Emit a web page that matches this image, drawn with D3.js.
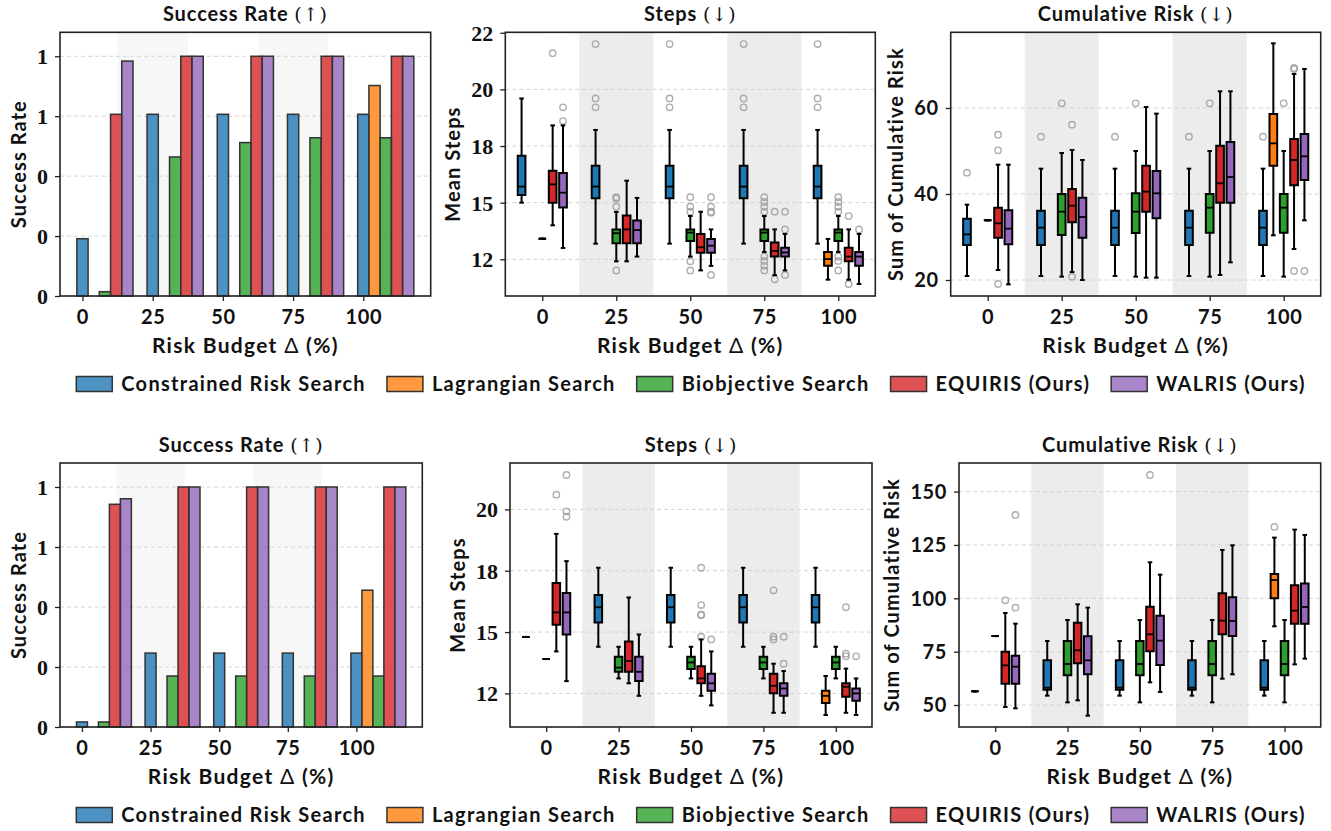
<!DOCTYPE html>
<html>
<head>
<meta charset="utf-8">
<script src="https://cdn.jsdelivr.net/npm/d3@7"></script>
<style>
  body { margin: 0; background: #fff; }
  svg text { font-family: Lato, "DejaVu Sans", sans-serif; font-weight: 700; fill: #111; }
  .serif text { font-family: "Liberation Serif", "DejaVu Serif", serif; font-size: 22px; }
</style>
</head>
<body>
<svg id="fig" width="1331" height="831"></svg>
<script>
(function(){
	// ---- data ----
	var budgets = [0, 25, 50, 75, 100];
	var methods = ["Constrained Risk Search", "Lagrangian Search", "Biobjective Search", "EQUIRIS (Ours)", "WALRIS (Ours)"];
	var colors = ["#1f77b4", "#ff7f0e", "#2ca02c", "#d62728", "#9467bd"];
	var shadeBands = [[12.5, 37.5], [62.5, 87.5]];

	// success rate, one row per method, one value per budget (null = no bar)
	var successTop = [
		[0.239, 0.758, 0.758, 0.758, 0.758],
		[null, null, null, null, 0.878],
		[0.018, 0.580, 0.640, 0.660, 0.660],
		[0.758, 1, 1, 1, 1],
		[0.980, 1, 1, 1, 1]
	];
	var successBottom = [
		[0.021, 0.308, 0.308, 0.308, 0.308],
		[null, null, null, null, 0.570],
		[0.021, 0.2125, 0.2125, 0.2125, 0.2125],
		[0.928, 1, 1, 1, 1],
		[0.951, 1, 1, 1, 1]
	];

	// box stats: [budget, method, whiskerLow, q1, median, q3, whiskerHigh, outliers]
	var stepsTop = [
		[0, 0, 15.00, 15.34, 15.71, 17.07, 19.60, []],
		[0, 2, 13.41, 13.41, 13.41, 13.41, 13.41, []],
		[0, 3, 14.00, 15.00, 15.81, 16.41, 18.41, [21.60]],
		[0, 4, 13.00, 14.79, 15.44, 16.31, 18.41, [19.21, 18.60]],
		[25, 0, 13.19, 15.19, 15.71, 16.63, 18.21, [22.00, 19.60, 19.21]],
		[25, 2, 12.41, 13.21, 13.65, 13.82, 14.59, [15.24, 15.18, 14.82, 12.01]],
		[25, 3, 12.41, 13.21, 13.82, 14.43, 15.97, []],
		[25, 4, 12.62, 13.21, 13.79, 14.21, 15.21, []],
		[50, 0, 13.19, 15.19, 15.71, 16.63, 18.21, [22.00, 19.60, 19.21]],
		[50, 2, 12.62, 13.31, 13.68, 13.82, 14.41, [15.24, 14.82, 14.60, 12.41, 12.01]],
		[50, 3, 12.01, 12.79, 13.03, 13.62, 14.60, []],
		[50, 4, 12.21, 12.79, 13.10, 13.40, 13.82, [15.24, 14.82, 14.60, 14.56, 11.81]],
		[75, 0, 13.19, 15.19, 15.71, 16.63, 18.21, [22.00, 19.60, 19.21]],
		[75, 2, 12.82, 13.31, 13.68, 13.82, 14.41, [15.24, 15.03, 14.82, 14.60, 12.62, 12.43, 12.21, 12.01]],
		[75, 3, 11.80, 12.62, 12.87, 13.24, 13.82, [14.60, 11.62]],
		[75, 4, 12.01, 12.62, 12.80, 13.01, 13.62, [14.60, 13.82, 11.81]],
		[100, 0, 13.19, 15.19, 15.71, 16.63, 18.21, [22.00, 19.60, 19.21]],
		[100, 1, 11.60, 12.21, 12.51, 12.82, 13.40, []],
		[100, 2, 12.82, 13.31, 13.68, 13.82, 14.41, [15.24, 15.03, 14.82, 14.60, 12.62, 12.43, 12.01]],
		[100, 3, 11.60, 12.41, 12.62, 13.01, 13.82, [14.41, 11.41]],
		[100, 4, 11.41, 12.21, 12.62, 12.82, 13.62, [13.82]]
	];
	var riskTop = [
		[0, 0, 20.93, 28.14, 30.62, 34.26, 37.52, [44.96]],
		[0, 2, 33.88, 33.88, 33.88, 33.88, 33.88, []],
		[0, 3, 22.33, 29.84, 33.18, 36.82, 46.82, [53.80, 50.16, 19.07]],
		[0, 4, 18.99, 28.29, 31.94, 36.20, 46.82, []],
		[25, 0, 20.93, 28.14, 32.17, 36.12, 45.89, [53.33]],
		[25, 2, 20.78, 30.47, 35.89, 40.00, 49.53, [61.09]],
		[25, 3, 21.86, 33.41, 37.29, 41.16, 50.23, [56.12, 20.78]],
		[25, 4, 20.00, 29.84, 34.65, 39.15, 47.91, []],
		[50, 0, 20.93, 28.14, 32.17, 36.12, 45.89, [53.33]],
		[50, 2, 20.78, 30.93, 35.89, 40.16, 50.00, [61.09]],
		[50, 3, 20.54, 35.89, 40.54, 46.59, 60.23, []],
		[50, 4, 20.54, 34.34, 40.16, 45.35, 58.68, []],
		[75, 0, 20.93, 28.14, 32.17, 36.12, 45.89, [53.33]],
		[75, 2, 20.78, 31.00, 36.82, 40.00, 50.00, [61.09]],
		[75, 3, 21.16, 37.98, 42.48, 51.24, 63.88, []],
		[75, 4, 24.11, 37.98, 43.95, 52.09, 63.88, []],
		[100, 0, 20.93, 28.14, 32.17, 36.12, 45.89, [53.33]],
		[100, 1, 30.39, 46.59, 51.78, 58.60, 75.04, []],
		[100, 2, 20.78, 31.00, 36.82, 40.00, 50.00, [61.09]],
		[100, 3, 27.21, 42.02, 47.91, 52.79, 67.91, [69.30, 69.07, 22.09]],
		[100, 4, 33.88, 43.26, 48.76, 53.95, 69.07, [22.09]]
	];
	var stepsBottom = [
		[0, 0, 14.80, 14.80, 14.80, 14.80, 14.80, []],
		[0, 2, 13.90, 13.90, 13.90, 13.90, 13.90, []],
		[0, 3, 14.21, 15.30, 15.80, 17.00, 19.00, [20.60]],
		[0, 4, 13.00, 14.90, 15.80, 16.59, 17.89, [21.40, 19.92, 19.70]],
		[25, 0, 14.40, 15.39, 16.01, 16.51, 17.62, []],
		[25, 2, 13.11, 13.38, 13.55, 13.99, 14.40, []],
		[25, 3, 12.91, 13.38, 13.82, 14.61, 16.41, []],
		[25, 4, 12.40, 13.00, 13.38, 13.99, 14.90, []],
		[50, 0, 14.40, 15.39, 16.01, 16.51, 17.62, []],
		[50, 2, 13.11, 13.49, 13.76, 13.99, 14.40, []],
		[50, 3, 12.40, 12.91, 13.11, 13.61, 14.70, [17.62, 16.10, 15.71, 15.69, 14.81]],
		[50, 4, 12.01, 12.61, 12.91, 13.30, 14.21, [14.70]],
		[75, 0, 14.40, 15.39, 16.01, 16.51, 17.62, []],
		[75, 2, 13.11, 13.49, 13.76, 13.99, 14.40, []],
		[75, 3, 11.71, 12.51, 12.81, 13.30, 13.71, [16.70, 14.81, 14.70]],
		[75, 4, 11.71, 12.40, 12.70, 12.91, 13.41, [14.81, 13.71]],
		[100, 0, 14.40, 15.39, 16.01, 16.51, 17.62, []],
		[100, 1, 11.62, 12.11, 12.40, 12.61, 13.21, []],
		[100, 2, 13.11, 13.49, 13.76, 13.99, 14.40, []],
		[100, 3, 11.71, 12.36, 12.77, 12.91, 13.51, [16.01, 14.12, 14.01]],
		[100, 4, 11.62, 12.20, 12.50, 12.70, 13.11, [14.01]]
	];
	var riskBottom = [
		[0, 0, 56.40, 56.40, 56.40, 56.40, 56.40, []],
		[0, 2, 82.30, 82.30, 82.30, 82.30, 82.30, []],
		[0, 3, 49.06, 60.00, 68.59, 75.00, 93.13, [99.06]],
		[0, 4, 48.44, 60.00, 67.97, 73.13, 88.13, [139.06, 95.63]],
		[25, 0, 54.38, 57.19, 58.13, 70.94, 80.00, []],
		[25, 2, 51.25, 63.91, 69.22, 80.00, 89.84, []],
		[25, 3, 52.19, 69.53, 75.63, 88.59, 97.19, []],
		[25, 4, 45.00, 64.38, 70.94, 82.19, 95.63, []],
		[50, 0, 54.38, 57.19, 58.13, 70.94, 80.00, []],
		[50, 2, 51.25, 63.91, 69.22, 80.00, 89.84, []],
		[50, 3, 60.63, 75.16, 83.13, 96.09, 116.88, [157.81]],
		[50, 4, 56.09, 68.75, 80.16, 91.88, 111.09, []],
		[75, 0, 54.38, 57.19, 58.13, 70.94, 80.00, []],
		[75, 2, 51.25, 63.91, 69.22, 80.00, 89.84, []],
		[75, 3, 62.34, 83.13, 89.53, 102.34, 122.66, []],
		[75, 4, 64.38, 82.34, 89.38, 100.47, 124.84, []],
		[100, 0, 54.38, 57.19, 58.13, 70.94, 80.00, []],
		[100, 1, 86.88, 100.00, 108.59, 111.41, 128.44, [133.44]],
		[100, 2, 51.25, 63.91, 69.22, 80.00, 89.84, []],
		[100, 3, 69.06, 88.13, 94.22, 106.09, 132.19, []],
		[100, 4, 71.72, 88.13, 95.94, 106.88, 129.69, []]
	];

	// tick values and their printed labels (labels are rounded as in the figure)
	var barTicks = [0, 0.25, 0.5, 0.75, 1];
	var barTickLabels = ["0", "0", "0", "1", "1"];
	var stepsTicks = [12.5, 15, 17.5, 20, 22.5];
	var stepsTickLabels = ["12", "15", "18", "20", "22"];
	var riskTopTicks = [20, 40, 60];
	var riskBottomTicks = [50, 75, 100, 125, 150];

	// ---- drawing ----
	var svg = d3.select("#fig");
	svg.append("rect").attr("width", 1331).attr("height", 831).attr("fill", "#fff");

	function title(g, b, main, arrow) {
		var t = g.append("text")
			.attr("x", (b.x0 + b.x1) / 2)
			.attr("y", b.y0 - 11)
			.attr("text-anchor", "middle")
			.style("font-size", "20px")
			.style("letter-spacing", "0.9px")
			.text(main + " ");
		t.append("tspan")
			.style("font-family", "'DejaVu Serif', serif")
			.style("font-weight", 400)
			.style("font-size", "19px")
			.text(arrow);
	}

	function xLabel(g, b) {
		var t = g.append("text")
			.attr("x", (b.x0 + b.x1) / 2)
			.attr("y", b.y1 + 57)
			.attr("text-anchor", "middle")
			.style("font-size", "21px")
			.style("letter-spacing", "1.3px")
			.text("Risk Budget ");
		t.append("tspan").style("font-weight", 400).text("Δ");
		t.append("tspan").text(" (%)");
	}

	function yLabel(g, b, axisG, txt) {
		var bb = axisG.node().getBBox();
		var xb = b.x0 + bb.x - 11;
		g.append("text")
			.attr("transform", "translate(" + xb + "," + ((b.y0 + b.y1) / 2) + ") rotate(-90)")
			.attr("text-anchor", "middle")
			.style("font-size", "20px")
			.style("letter-spacing", "1.1px")
			.text(txt);
	}

	function axes(g, b, x, y, yTicks, yLabels, serif) {
		// grid
		g.append("g").selectAll("line")
			.data(yTicks.filter(function(t){ return t >= y.domain()[0] && t <= y.domain()[1]; }))
			.enter().append("line")
			.attr("x1", b.x0).attr("x2", b.x1)
			.attr("y1", function(d){ return y(d); }).attr("y2", function(d){ return y(d); })
			.attr("stroke", "#cfcfcf").attr("stroke-width", 0.9)
			.attr("stroke-dasharray", "4,3");

		var xa = g.append("g")
			.attr("transform", "translate(0," + b.y1 + ")")
			.call(d3.axisBottom(x).tickValues(budgets).tickSize(5).tickPadding(9));
		xa.select(".domain").remove();
		xa.selectAll("line").attr("stroke", "#222").attr("stroke-width", 1.3);
		xa.selectAll("text").style("font-size", "20px").style("letter-spacing", "0.6px").attr("fill", "#111");

		var shown = yTicks.filter(function(t){ return t >= y.domain()[0] - 1e-9 && t <= y.domain()[1] + 1e-9; });
		var ya = g.append("g")
			.attr("class", serif ? "serif" : null)
			.attr("transform", "translate(" + b.x0 + ",0)")
			.call(d3.axisLeft(y).tickValues(shown).tickSize(5).tickPadding(7)
				.tickFormat(function(d){ return yLabels ? yLabels[yTicks.indexOf(d)] : d; }));
		ya.select(".domain").remove();
		ya.selectAll("line").attr("stroke", "#222").attr("stroke-width", 1.3);
		ya.selectAll("text").attr("fill", "#111").attr("dy", "0.34em");
		if (!serif) ya.selectAll("text").style("font-size", "20px").style("letter-spacing", "0.6px");
		return ya;
	}

	function frame(g, b) {
		g.append("rect")
			.attr("x", b.x0).attr("y", b.y0)
			.attr("width", b.x1 - b.x0).attr("height", b.y1 - b.y0)
			.attr("fill", "none").attr("stroke", "#222").attr("stroke-width", 1.6);
	}

	function barPanel(b, values) {
		var g = svg.append("g");
		var x = d3.scaleLinear().domain([-8, 124]).range([b.x0, b.x1]);
		var y = d3.scaleLinear().domain([0, 1.1]).range([b.y1, b.y0]);

		g.append("g").selectAll("rect").data(shadeBands).enter().append("rect")
			.attr("x", function(d){ return x(d[0]); })
			.attr("width", function(d){ return x(d[1]) - x(d[0]); })
			.attr("y", b.y0).attr("height", b.y1 - b.y0)
			.attr("fill", "#f7f7f7");

		var ya = axes(g, b, x, y, barTicks, barTickLabels, true);

		var bars = [];
		values.forEach(function(row, m) {
			row.forEach(function(v, i) {
				if (v !== null) bars.push({ b: budgets[i], m: m, v: v });
			});
		});
		g.append("g").selectAll("rect").data(bars).enter().append("rect")
			.attr("x", function(d){ return x(d.b + d.m * 4 - 2); })
			.attr("width", function(d){ return x(d.b + d.m * 4 + 2) - x(d.b + d.m * 4 - 2); })
			.attr("y", function(d){ return y(d.v); })
			.attr("height", function(d){ return y(0) - y(d.v); })
			.attr("fill", function(d){ return colors[d.m]; })
			.attr("fill-opacity", 0.8)
			.attr("stroke", "#333").attr("stroke-width", 1.5);

		frame(g, b);
		title(g, b, "Success Rate", "(↑)");
		xLabel(g, b);
		yLabel(g, b, ya, "Success Rate");
	}

	function boxPanel(b, stats, yDomain, yTicks, yLabels, serif, ttl, ylab) {
		var g = svg.append("g");
		var x = d3.scaleLinear().domain([-12.5, 112.5]).range([b.x0, b.x1]);
		var y = d3.scaleLinear().domain(yDomain).range([b.y1, b.y0]);

		g.append("g").selectAll("rect").data(shadeBands).enter().append("rect")
			.attr("x", function(d){ return x(d[0]); })
			.attr("width", function(d){ return x(d[1]) - x(d[0]); })
			.attr("y", b.y0).attr("height", b.y1 - b.y0)
			.attr("fill", "#ececec");

		var ya = axes(g, b, x, y, yTicks, yLabels, serif);

		var hw = (x(1.3) - x(0));
		var cw = hw * 0.6;
		var boxes = g.append("g").selectAll("g").data(stats).enter().append("g");
		boxes.each(function(s) {
			var bg = d3.select(this);
			var cx = x(s[0] + (s[1] - 2) * 3.5);
			s[7].forEach(function(o) {
				bg.append("circle").attr("cx", cx).attr("cy", y(o)).attr("r", 3.2)
					.attr("fill", "none").attr("stroke", "#9a9a9a").attr("stroke-opacity", 0.8)
					.attr("stroke-width", 1.4);
			});
			var wl = [[s[2], s[3]], [s[5], s[6]]];
			wl.forEach(function(w) {
				bg.append("line").attr("x1", cx).attr("x2", cx)
					.attr("y1", y(w[0])).attr("y2", y(w[1]))
					.attr("stroke", "#000").attr("stroke-width", 2);
			});
			[s[2], s[6]].forEach(function(c) {
				bg.append("line").attr("x1", cx - cw).attr("x2", cx + cw)
					.attr("y1", y(c)).attr("y2", y(c))
					.attr("stroke", "#000").attr("stroke-width", 2);
			});
			bg.append("path")
				.attr("d", "M" + (cx - hw) + "," + y(s[3]) + "L" + (cx + hw) + "," + y(s[3]) +
					"L" + (cx + hw) + "," + y(s[5]) + "L" + (cx - hw) + "," + y(s[5]) + "Z")
				.attr("fill", colors[s[1]])
				.attr("stroke", "#000").attr("stroke-width", 2).attr("stroke-linejoin", "miter");
			bg.append("line").attr("x1", cx - hw).attr("x2", cx + hw)
				.attr("y1", y(s[4])).attr("y2", y(s[4]))
				.attr("stroke", "#000").attr("stroke-width", 1.8);
		});

		frame(g, b);
		var parts = ttl.split(" (");
		title(g, b, parts[0], "(" + parts[1]);
		xLabel(g, b);
		yLabel(g, b, ya, ylab);
	}

	// top row
	barPanel({ x0: 60, x1: 430.7, y0: 32.3, y1: 296 }, successTop);
	boxPanel({ x0: 505.3, x1: 875.3, y0: 32.3, y1: 296 }, stepsTop, [10.88, 22.52], stepsTicks, stepsTickLabels, true, "Steps (↓)", "Mean Steps");
	boxPanel({ x0: 950.7, x1: 1320.7, y0: 32.3, y1: 296 }, riskTop, [16.28, 77.6], riskTopTicks, null, false, "Cumulative Risk (↓)", "Sum of Cumulative Risk");
	// bottom row
	barPanel({ x0: 60, x1: 422.3, y0: 463, y1: 727 }, successBottom);
	boxPanel({ x0: 510, x1: 872, y0: 463, y1: 727 }, stepsBottom, [11.13, 21.89], stepsTicks, stepsTickLabels, true, "Steps (↓)", "Mean Steps");
	boxPanel({ x0: 959, x1: 1320.7, y0: 463, y1: 727 }, riskBottom, [39.7, 163.4], riskBottomTicks, null, false, "Cumulative Risk (↓)", "Sum of Cumulative Risk");

	// legends
	function legend(cy) {
		var lg = svg.append("g");
		var items = lg.selectAll("g").data(methods).enter().append("g");
		items.append("rect")
			.attr("width", 36).attr("height", 15).attr("y", cy - 7.5)
			.attr("fill", function(d, i){ return colors[i]; })
			.attr("fill-opacity", 0.8)
			.attr("stroke", "#333").attr("stroke-width", 1.5);
		items.append("text")
			.attr("x", 45).attr("y", cy + 7)
			.style("font-size", "20px")
			.style("letter-spacing", "1.3px")
			.text(function(d){ return d; });
		var pos = 0, offs = [];
		items.each(function() {
			offs.push(pos);
			var w = d3.select(this).select("text").node().getComputedTextLength();
			pos += 45 + w + 21;
		});
		var total = pos - 21;
		var start = 691 - total / 2;
		items.attr("transform", function(d, i){ return "translate(" + (start + offs[i]) + ",0)"; });
	}
	legend(384);
	legend(815);
})();
</script>
</body>
</html>
